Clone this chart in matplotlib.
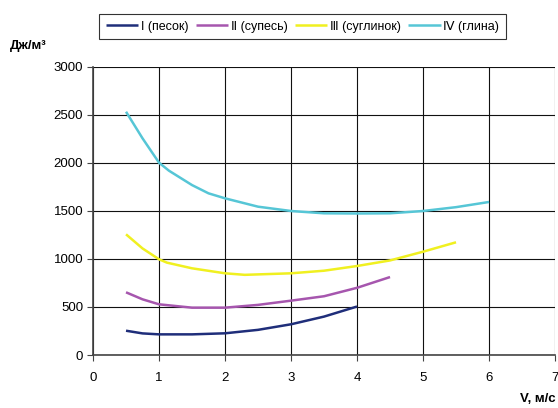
import matplotlib.pyplot as plt

plt.rcParams['font.family'] = ['Liberation Sans', 'DejaVu Sans']

# velocity, m/s
v_sand = [0.5, 0.75, 1.0, 1.5, 2.0, 2.5, 3.0, 3.5, 4.0]
e_sand = [253, 225, 215, 215, 226, 262, 320, 400, 505]

v_sandy = [0.5, 0.75, 1.0, 1.5, 2.0, 2.5, 3.0, 3.5, 4.0, 4.5]
e_sandy = [653, 580, 528, 493, 493, 522, 566, 612, 700, 812]

v_loam = [0.5, 0.75, 1.0, 1.12, 1.5, 2.0, 2.3, 3.0, 3.5, 4.0, 4.5, 5.0, 5.5]
e_loam = [1257, 1110, 997, 962, 903, 851, 835, 851, 878, 927, 985, 1076, 1174]

v_clay = [0.5, 0.75, 1.0, 1.15, 1.5, 1.75, 2.0, 2.5, 3.0, 3.5, 4.0, 4.5, 5.0, 5.5, 6.0]
e_clay = [2534, 2257, 2003, 1920, 1770, 1684, 1632, 1545, 1500, 1476, 1474, 1476, 1500, 1540, 1594]

labels = ["I (песок)", "Ⅱ (супесь)", "Ⅲ (суглинок)", "Ⅳ (глина)"]
colors = ["#1f2e7a", "#a656ae", "#f0f020", "#56c6d6"]

fig = plt.figure(figsize=(5.58, 4.08), dpi=100)
ax = fig.add_axes((0.1667, 0.1299, 0.828, 0.7059))

series = [(v_sand, e_sand), (v_sandy, e_sandy), (v_loam, e_loam), (v_clay, e_clay)]
for (x, y), lab, c in zip(series, labels, colors):
    ax.plot(x, y, color=c, lw=1.8, label=lab, solid_capstyle="butt")

ax.set_xlim(0, 7)
ax.set_ylim(0, 3000)
ax.set_xticks(range(0, 8))
ax.set_yticks(range(0, 3001, 500))
ax.grid(True, color="#111111", lw=0.8)
ax.set_axisbelow(True)
ax.tick_params(labelsize=9.5, direction="out", length=4, width=0.8, color="#444444")
ax.tick_params(axis="x", pad=8)
ax.tick_params(axis="y", pad=3)
for side in ("top", "right"):
    ax.spines[side].set_visible(False)
for side in ("left", "bottom"):
    ax.spines[side].set_color("#444444")
    ax.spines[side].set_linewidth(1.2)

fig.text(0.018, 0.888, "Дж/м³", fontsize=9.5, fontweight="bold", ha="left", va="center")
fig.text(0.995, 0.022, "V, м/с", fontsize=9.5, fontweight="bold", ha="right", va="center")

leg = fig.legend(loc="center", bbox_to_anchor=(0.542, 0.935), ncol=4, fontsize=9,
                 frameon=True, fancybox=False, edgecolor="black", handlelength=2.6,
                 handletextpad=0.2, columnspacing=0.6, borderpad=0.55, borderaxespad=0)
leg.get_frame().set_linewidth(0.8)

fig.savefig("out.png", dpi=100)
